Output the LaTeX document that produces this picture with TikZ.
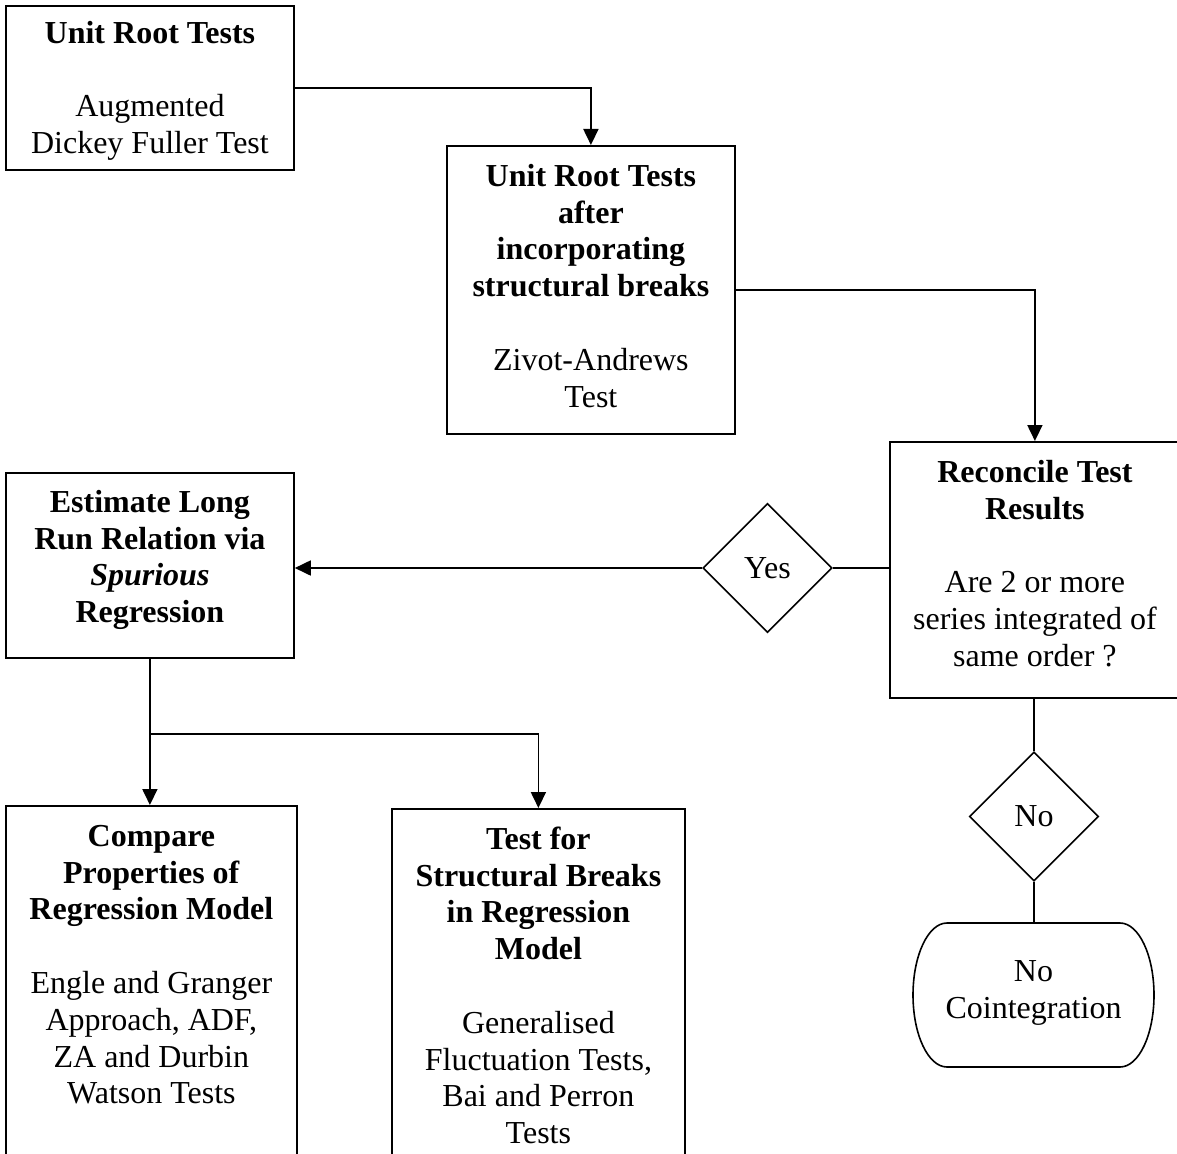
\documentclass[tikz,border=0pt]{standalone}
\usepackage{fontspec}
\setmainfont{Liberation Serif}
\usetikzlibrary{arrows.meta,shapes.geometric}
\begin{document}
\begin{tikzpicture}[x=1pt,y=-1pt,
  every node/.style={font=\fontsize{32}{36.8}\selectfont},
  box/.style={draw,line width=1.8pt,rectangle,anchor=north west,inner sep=0pt},
  txt/.style={anchor=north,align=center,inner sep=0pt},
  dia/.style={draw,line width=1.6pt,diamond,minimum width=129pt,minimum height=129pt,inner sep=0pt},
  conn/.style={line width=1.8pt},
  arr/.style={line width=1.8pt,-{Triangle[length=16pt,width=15pt]}}]
\useasboundingbox (0,0) rectangle (1177,1153);
\clip (0,0) rectangle (1177,1153);
\fill[white] (0,0) rectangle (1177,1153);
\newcommand{\fs}{\rule{0pt}{25pt}}
% boxes
\node[box,minimum width=288pt,minimum height=164pt] (b1) at (5,5) {};
\node[box,minimum width=288pt,minimum height=288pt] (b2) at (446,145) {};
\node[box,minimum width=290pt,minimum height=256pt] (b3) at (889,441) {};
\node[box,minimum width=288pt,minimum height=185pt] (b4) at (5,472) {};
\node[box,minimum width=291pt,minimum height=400pt] (b5) at (5,805) {};
\node[box,minimum width=293pt,minimum height=400pt] (b6) at (391,808) {};
\node[dia] (dy) at (767.5,568) {};
\node[dia] (dn) at (1034,816.5) {};
\node[rectangle,inner sep=0pt,minimum width=241pt,minimum height=144pt] (term) at (1033.5,995) {};
\draw[line width=1.6pt] (947,923) -- (1120,923)
  arc[start angle=-90,end angle=90,x radius=34,y radius=72] -- (947,1067)
  arc[start angle=90,end angle=270,x radius=34,y radius=72] -- cycle;
% texts
\node[txt] (t1) at ([yshift=-13pt]b1.north) {\fs\textbf{Unit Root Tests}\\[36.8pt]Augmented\\Dickey Fuller Test};
\node[txt] (t2) at ([yshift=-16pt]b2.north) {\fs\textbf{Unit Root Tests}\\\textbf{after}\\\textbf{incorporating}\\\textbf{structural breaks}\\[36.8pt]Zivot-Andrews\\Test};
\node[txt] (t3) at ([yshift=-16pt]b3.north) {\fs\textbf{Reconcile Test}\\\textbf{Results}\\[36.8pt]Are 2 or more\\series integrated of\\same order ?};
\node[txt] (t4) at ([yshift=-15pt]b4.north) {\fs\textbf{Estimate Long}\\\textbf{Run Relation via}\\\textbf{\textit{Spurious}}\\\textbf{Regression}};
\node[txt] (t5) at ([yshift=-16pt]b5.north) {\fs\textbf{Compare}\\\textbf{Properties of}\\\textbf{Regression Model}\\[36.8pt]Engle and Granger\\Approach, ADF,\\ZA and Durbin\\Watson Tests};
\node[txt] (t6) at ([yshift=-16pt]b6.north) {\fs\textbf{Test for}\\\textbf{Structural Breaks}\\\textbf{in Regression}\\\textbf{Model}\\[36.8pt]Generalised\\Fluctuation Tests,\\Bai and Perron\\Tests};
\node[align=center,inner sep=0pt] (tt) at ([yshift=2pt]term.center) {No\\Cointegration};
\node[inner sep=0pt] (ty) at (dy.center) {Yes};
\node[inner sep=0pt] (tn) at (dn.center) {No};
% connectors
\draw[arr] (b1.east) -| (b2.north);
\draw[arr] (b2.east) -| (b3.north);
\draw[conn] (dy.east) -- (dy.east -| b3.west);
\draw[arr] (dy.west) -- (dy.west -| b4.east);
\draw[conn] (dn.north |- b3.south) -- (dn.north);
\draw[conn] (dn.south) -- (dn.south |- term.north);
\coordinate (br) at ([yshift=-75pt]b4.south);
\draw[conn] (b4.south) -- (br);
\draw[arr] (br) -- (br |- b5.north);
\draw[arr] (br) -| (b6.north);
\end{tikzpicture}
\end{document}
